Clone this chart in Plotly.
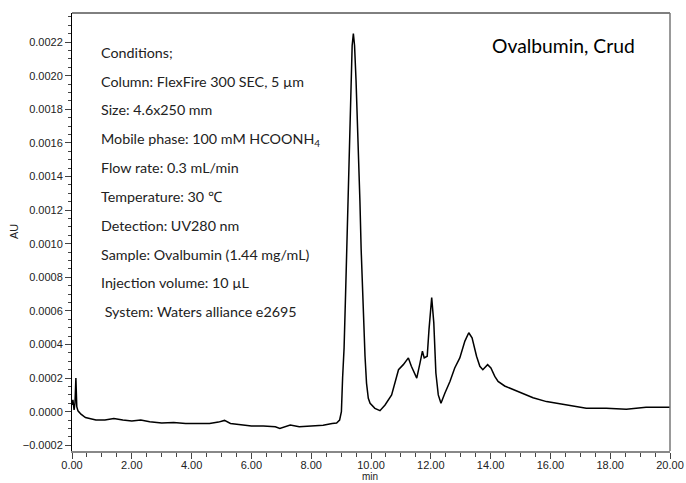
import plotly.graph_objects as go

# Retention time (min) and absorbance (AU)
time_min = [0.00, 0.03, 0.07, 0.10, 0.13, 0.16, 0.20, 0.30, 0.45, 0.80, 1.10, 1.40, 1.70,
            2.00, 2.30, 2.60, 3.00, 3.40, 3.80, 4.20, 4.60, 4.90, 5.10, 5.30, 5.60, 6.00,
            6.40, 6.80, 6.95, 7.10, 7.30, 7.60, 8.00, 8.40, 8.70, 8.85, 8.95, 9.01, 9.05,
            9.10, 9.15, 9.19, 9.24, 9.28, 9.33, 9.37, 9.41, 9.45, 9.50, 9.54, 9.58, 9.63,
            9.67, 9.74, 9.80, 9.85, 9.91, 9.97, 10.13, 10.30, 10.47, 10.69, 10.86, 10.92,
            11.08, 11.19, 11.25, 11.35, 11.53, 11.64, 11.72, 11.78, 11.88, 11.94, 12.03,
            12.10, 12.17, 12.25, 12.34, 12.47, 12.64, 12.80, 12.97, 13.14, 13.27, 13.38,
            13.53, 13.64, 13.74, 13.90, 14.01, 14.14, 14.25, 14.47, 14.75, 15.09, 15.42,
            15.87, 16.31, 16.75, 17.20, 17.87, 18.54, 19.20, 19.87, 20.00]
absorbance_au = [0.00004, 0.00007, 0.00001, 0.00005, 0.00020, 0.00003, 0.000005, -0.000015,
                 -0.000035, -0.00005, -0.00005, -0.00004, -0.00005, -0.000055, -0.00005,
                 -0.00006, -0.000068, -0.000065, -0.00007, -0.00007, -0.00007, -0.000062,
                 -0.000052, -0.00007, -0.000075, -0.000085, -0.000085, -0.00009, -0.0001,
                 -0.00009, -0.00008, -0.00009, -0.000085, -0.00008, -0.00007, -0.000068,
                 -0.00005, 0.0, 0.0002, 0.00038, 0.0007, 0.00097, 0.00130, 0.00157, 0.00197,
                 0.00218, 0.00225, 0.00218, 0.00197, 0.00178, 0.00157, 0.00125, 0.00097,
                 0.00060, 0.00033, 0.00017, 0.00008, 0.00005, 0.00002, 0.000006, 0.00004,
                 0.0001, 0.00021, 0.00025, 0.00028, 0.00031, 0.00032, 0.00027, 0.0002,
                 0.00029, 0.00036, 0.00032, 0.00033, 0.00049, 0.00068, 0.00053, 0.00023,
                 0.0001, 0.00005, 0.00011, 0.00018, 0.00026, 0.00032, 0.00042, 0.00047,
                 0.00044, 0.00033, 0.00027, 0.00025, 0.00028, 0.00026, 0.00021, 0.00018,
                 0.000153, 0.000133, 0.000105, 0.000083, 0.00006, 0.000046, 0.00003,
                 0.00002, 0.00002, 0.000014, 0.000026, 0.000026, 0.000026]

y_ticks = [-0.0002, 0.0, 0.0002, 0.0004, 0.0006, 0.0008, 0.0010, 0.0012, 0.0014,
           0.0016, 0.0018, 0.0020, 0.0022]
x_ticks = [0, 2, 4, 6, 8, 10, 12, 14, 16, 18, 20]

chart_title = "Ovalbumin, Crud"
condition_lines = [
    "Conditions;",
    "Column: FlexFire 300 SEC, 5 µm",
    "Size: 4.6x250 mm",
    "Mobile phase: 100 mM HCOONH<sub>4</sub>",
    "Flow rate: 0.3 mL/min",
    "Temperature: 30 ℃",
    "Detection: UV280 nm",
    "Sample: Ovalbumin (1.44 mg/mL)",
    "Injection volume: 10 µL",
    " System: Waters alliance e2695",
]

W, H = 686, 483
L, R, T, B = 72, 16, 13, 32
pw, ph = W - L - R, H - T - B

fig = go.Figure()
fig.add_trace(go.Scatter(x=time_min, y=absorbance_au, mode="lines",
                         line=dict(color="black", width=1.5), showlegend=False))

tick_font = dict(family="Liberation Sans, Arial, sans-serif", size=11, color="#222")
fig.update_xaxes(range=[0, 20], tickvals=x_ticks, ticktext=[f"{v:.2f}" for v in x_ticks],
                 ticks="outside", ticklen=6, tickcolor="#444", showline=True,
                 linecolor="#888", linewidth=2, showgrid=False, zeroline=False,
                 tickfont=tick_font, automargin=False, ticklabelstandoff=-3,
                 minor=dict(dtick=0.5, ticks="outside", ticklen=4, tickcolor="#444", showgrid=False))
fig.update_yaxes(range=[-0.000234, 0.002373], tickvals=y_ticks,
                 ticktext=[(f"{v:.4f}" if v >= 0 else "\u2212" + f"{-v:.4f}") for v in y_ticks],
                 ticks="outside", ticklen=6, tickcolor="#444", showline=True,
                 linecolor="black", linewidth=1, showgrid=False, zeroline=False,
                 tickfont=tick_font, automargin=False,
                 minor=dict(dtick=0.00005, tick0=0, ticks="outside", ticklen=3, tickcolor="#444", showgrid=False))

def px_x(p):
    return (p - L) / pw

def px_y(p):
    return 1 - (p - T) / ph

annotations = []
text_font = dict(family="Lato, Carlito, sans-serif", size=14.3, color="#222")
line_y = [52.7, 81.7, 110, 139.3, 167.7, 196.7, 225, 254, 282.7, 311.7]
for txt, yy in zip(condition_lines, line_y):
    annotations.append(dict(text=txt, xref="paper", yref="paper", x=px_x(99), y=px_y(yy),
                            xanchor="left", yanchor="middle", showarrow=False, font=text_font))
annotations.append(dict(text=chart_title, xref="paper", yref="paper", x=px_x(490), y=px_y(45),
                        xanchor="left", yanchor="middle", showarrow=False,
                        font=dict(family="Lato, Carlito, sans-serif", size=19.3, color="black")))
annotations.append(dict(text="AU", xref="paper", yref="paper", x=px_x(14), y=px_y(232),
                        xanchor="center", yanchor="middle", textangle=-90, showarrow=False,
                        font=dict(family="Liberation Sans, Arial, sans-serif", size=11, color="#222")))
annotations.append(dict(text="min", xref="paper", yref="paper", x=px_x(370), y=px_y(476.5),
                        xanchor="center", yanchor="middle", showarrow=False,
                        font=dict(family="Liberation Sans, Arial, sans-serif", size=10, color="#222")))

shapes = [
    dict(type="line", xref="paper", yref="paper", x0=0, x1=1, y0=1, y1=1,
         line=dict(color="black", width=1)),
    dict(type="line", xref="paper", yref="paper", x0=1, x1=1, y0=0, y1=1,
         line=dict(color="#777", width=1.5)),
]

fig.update_layout(width=W, height=H, margin=dict(l=L, r=R, t=T, b=B, pad=0, autoexpand=False),
                  plot_bgcolor="white", paper_bgcolor="white",
                  annotations=annotations, shapes=shapes)

fig.write_html("out.html", config={"displayModeBar": False},
               post_script="document.body.style.margin='0';document.body.style.padding='0';"
                           "document.body.style.overflow='hidden';")
